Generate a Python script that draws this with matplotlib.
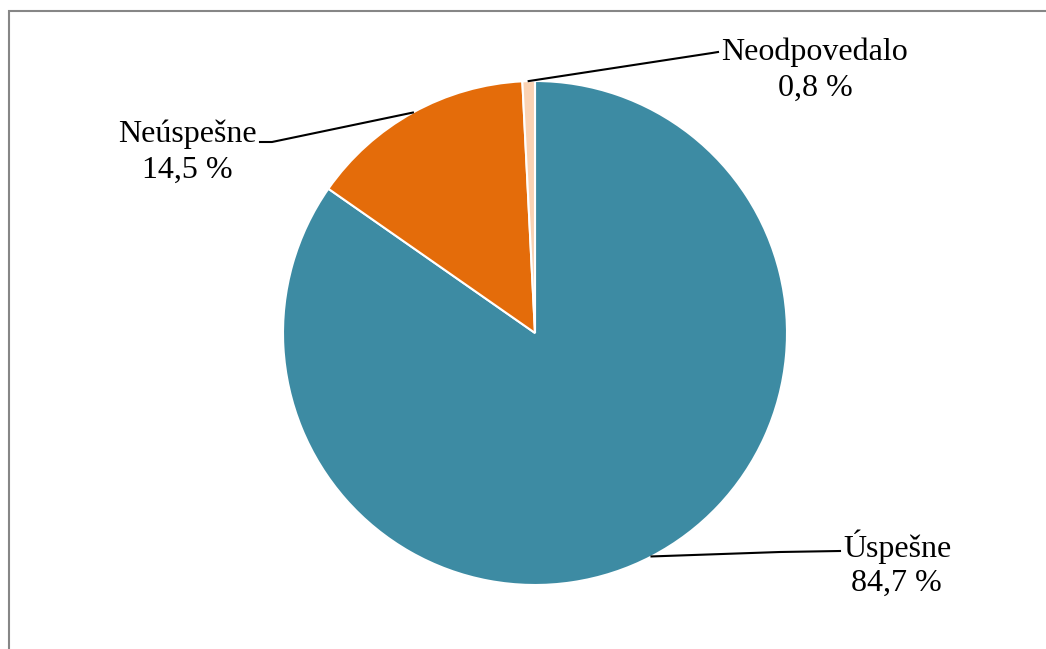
import numpy as np
import matplotlib.pyplot as plt
from matplotlib.patches import Rectangle

# data
labels = ["Úspešne", "Neúspešne", "Neodpovedalo"]
values = [84.7, 14.5, 0.8]
value_text = ["84,7 %", "14,5 %", "0,8 %"]
colors = ["#3D8BA3", "#E46C0A", "#FAD3B4"]

W, H = 1046, 649
fig = plt.figure(figsize=(W / 100, H / 100), dpi=100)
ax = fig.add_axes([0, 0, 1, 1])

cx, cy, r = 535, H - 333, 252
wedges, _ = ax.pie(values, colors=colors, startangle=90, counterclock=False,
                   center=(cx, cy), radius=r, frame=True,
                   wedgeprops=dict(edgecolor="white", linewidth=1.5))
ax.set_xlim(0, W)
ax.set_ylim(0, H)
ax.set_aspect("equal")
ax.axis("off")

# label placement (pixel coords, y from top): name center, value center, elbow, line end
name_pos = [(898, 547), (187, 134), (815, 52)]
val_pos = [(896, 583), (187, 170), (815, 88)]
elbows = [(780, 552), (272, 142), (712, 53)]
ends = [(840, 551), (260, 142), (718, 52)]

font = dict(family="Liberation Serif", size=23, color="black")
for w, lab, vt, npos, vpos, el, en in zip(wedges, labels, value_text, name_pos, val_pos, elbows, ends):
    mid = np.deg2rad((w.theta1 + w.theta2) / 2)
    ex, ey = cx + r * np.cos(mid), cy + r * np.sin(mid)
    ax.plot([ex, el[0], en[0]], [ey, H - el[1], H - en[1]], color="black", lw=1.5)
    ax.text(npos[0], H - npos[1], lab, ha="center", va="center", **font)
    ax.text(vpos[0], H - vpos[1], vt, ha="center", va="center", **font)

# chart area border (only top and left visible)
fig.patches.append(Rectangle((9 / W, -0.1), 1.2, (H - 11) / H + 0.1,
                             transform=fig.transFigure, fill=False,
                             edgecolor="#868686", lw=1.5))

fig.savefig("out.png", dpi=100, facecolor="white")
